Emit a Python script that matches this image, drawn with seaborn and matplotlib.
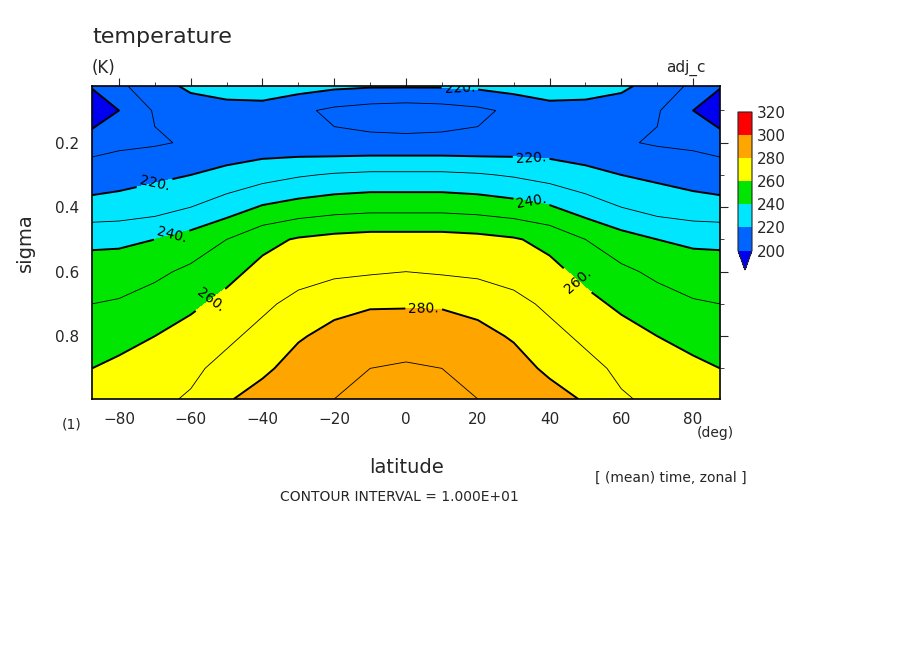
import numpy as np
import matplotlib
matplotlib.use("Agg")
import matplotlib.pyplot as plt
import seaborn as sns
from matplotlib.colors import ListedColormap, BoundaryNorm

sns.set_style("white")
plt.rcParams['font.family'] = ['DejaVu Sans']

# latitude (deg) and sigma levels of the zonal-mean field
lat = [-87.5, -80, -70, -60, -50, -40, -30, -20, -10, 0,
       10, 20, 30, 40, 50, 60, 70, 80, 87.5]
sigma = [0.024, 0.1, 0.2, 0.3, 0.4, 0.5, 0.6, 0.7, 0.8, 0.9, 0.995]

# temperature (K), one row per sigma level, left to right in latitude
t_003 = [201, 208, 216, 222, 225, 226, 224, 222, 221, 221, 221, 222, 224, 226, 225, 222, 216, 208, 201]
t_010 = [192, 200, 211, 215, 216, 216, 212, 208, 206, 205, 206, 208, 212, 216, 216, 215, 211, 200, 192]
t_020 = [206, 208, 209, 211, 213, 214, 213, 212, 212, 212, 212, 212, 213, 214, 213, 211, 209, 208, 206]
t_030 = [215, 216, 218, 220, 223, 226, 229, 231, 232, 232, 232, 231, 229, 226, 223, 220, 218, 216, 215]
t_040 = [223, 224, 226, 230, 235, 241, 244, 246, 247, 247, 247, 246, 244, 241, 235, 230, 226, 224, 223]
t_050 = [238, 238, 240, 244, 250, 257, 261, 263, 264, 264, 264, 263, 261, 257, 250, 244, 240, 238, 238]
t_060 = [244, 245, 248, 252, 257, 263, 266, 268, 269, 270, 269, 268, 266, 263, 257, 252, 248, 245, 244]
t_070 = [250, 251, 254, 258, 263, 268, 273, 277, 279, 279, 279, 277, 273, 268, 263, 258, 254, 251, 250]
t_080 = [255, 257, 260, 264, 268, 273, 279, 283, 285, 286, 285, 283, 279, 273, 268, 264, 260, 257, 255]
t_090 = [260, 262, 265, 268, 273, 278, 284, 287, 290, 291, 290, 287, 284, 278, 273, 268, 265, 262, 260]
t_099 = [263, 266, 268, 271, 279, 284, 288, 290, 292, 293, 292, 290, 288, 284, 279, 271, 268, 266, 263]

temp = np.array([t_003, t_010, t_020, t_030, t_040, t_050,
                 t_060, t_070, t_080, t_090, t_099])

fill_levels = [200, 220, 240, 260, 280, 300, 320]
fill_colors = ['#0064ff', '#00e6ff', '#00e600', '#ffff00', '#ffa500', '#ff0000']
under_color = '#0000f0'

cmap = ListedColormap(fill_colors)
cmap.set_under(under_color)
norm = BoundaryNorm(fill_levels, cmap.N)

fig = plt.figure(figsize=(9.04, 6.54), dpi=100)
ax = fig.add_axes([0.1018, 0.3899, 0.6947, 0.4786])

X, Y = np.meshgrid(lat, sigma)
cf = ax.contourf(X, Y, temp, levels=fill_levels, cmap=cmap, norm=norm, extend='min')
ax.contour(X, Y, temp, levels=[210, 230, 250, 270, 290], colors='k', linewidths=0.6)
ax.contour(X, Y, temp, levels=[200], colors='k', linewidths=1.4)
thick = ax.contour(X, Y, temp, levels=[220, 240, 260, 280], colors='k', linewidths=1.4)
label_spots = [(15, 0.03), (35, 0.22), (-70, 0.33), (-65, 0.5), (35, 0.38),
               (-55, 0.68), (50, 0.6), (5, 0.68)]
ax.clabel(thick, fmt='%d.', fontsize=10, inline=True, inline_spacing=3,
          manual=label_spots)

ax.set_xlim(-87.5, 87.5)
ax.set_ylim(0.995, 0.024)
ax.set_xticks([-80, -60, -40, -20, 0, 20, 40, 60, 80])
ax.set_xticks(np.arange(-80, 90, 10), minor=True)
ax.set_yticks([0.2, 0.4, 0.6, 0.8])
ax.set_yticks(np.arange(0.1, 1.0, 0.1), minor=True)
ax.tick_params(which='both', direction='out', top=True, right=True, labelsize=11)
ax.tick_params(which='major', length=6)
ax.tick_params(which='minor', length=3)
for s in ax.spines.values():
    s.set_linewidth(1.2)
    s.set_color('k')

ax.set_xlabel('latitude', fontsize=14, labelpad=22)
ax.set_ylabel('sigma', fontsize=14, labelpad=14)

fig.text(92/904, 1-37/654, 'temperature', fontsize=16, va='center')
fig.text(92/904, 1-68/654, '(K)', fontsize=12, va='center')
fig.text(706/904, 1-68/654, 'adj_c', fontsize=11, va='center', ha='right')
fig.text(62/904, 1-424/654, '(1)', fontsize=10, va='center')
fig.text(697/904, 1-433/654, '(deg)', fontsize=10, va='center')
fig.text(595/904, 1-478/654, '[ (mean) time, zonal ]', fontsize=10, va='center')
fig.text(280/904, 1-497/654, 'CONTOUR INTERVAL = 1.000E+01', fontsize=10, va='center')

cax = fig.add_axes([738/904, 1-270/654, 14/904, 158/654])
cb = fig.colorbar(cf, cax=cax, extend='min', extendfrac=0.14, ticks=fill_levels)
cb.ax.tick_params(labelsize=11, length=0)
cb.outline.set_linewidth(0.8)

fig.savefig('out.png', dpi=100)
